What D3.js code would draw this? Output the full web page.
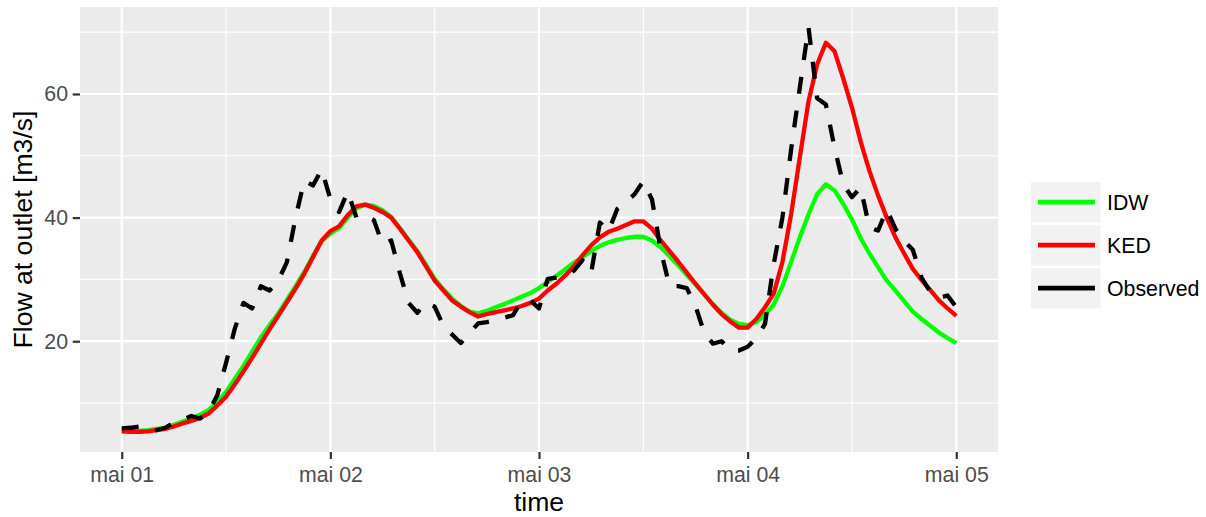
<!DOCTYPE html>
<html>
<head>
<meta charset="utf-8">
<script src="https://cdn.jsdelivr.net/npm/d3@7"></script>
<style>
  body { margin: 0; background: #ffffff; }
  svg { display: block; }
  text { font-family: "Liberation Sans", Arial, sans-serif; }
</style>
</head>
<body>
<svg id="chart" width="1206" height="517"></svg>
<script>
// ---------------- data (hourly, mai 01 00:00 -> mai 05 00:00) ----------------
const idw = [
  5.5,5.5,5.5,5.6,5.8,6.0,6.5,7.0,7.5,8.1,
  8.9,10.1,11.8,13.9,16.0,18.3,20.6,22.6,24.5,26.7,
  28.9,31.2,33.8,36.2,37.4,38.3,40.0,41.5,42.1,41.9,
  41.2,40.1,38.3,36.4,34.6,32.4,30.1,28.4,26.9,25.7,
  24.8,24.5,24.9,25.5,26.0,26.6,27.2,27.8,28.6,29.6,
  30.6,31.6,32.7,33.6,34.6,35.4,36.0,36.4,36.7,36.9,
  36.9,36.3,35.2,33.8,32.3,30.7,29.2,27.6,26.0,24.6,
  23.5,22.8,22.6,23.1,24.3,25.9,28.9,32.8,36.8,40.5,
  43.8,45.4,44.4,42.2,39.7,36.7,34.2,32.0,29.8,28.2,
  26.5,24.8,23.6,22.5,21.4,20.5,19.7
];
const ked = [
  5.4,5.35,5.35,5.4,5.6,5.8,6.2,6.7,7.1,7.6,
  8.3,9.6,11.0,13.0,15.1,17.3,19.6,21.9,24.1,26.3,
  28.5,30.9,33.6,36.3,37.8,38.6,40.4,41.8,42.1,41.6,
  40.9,40.0,38.2,36.3,34.4,32.1,29.8,28.2,26.6,25.6,
  24.7,24.0,24.4,24.7,25.0,25.3,25.7,26.2,26.9,28.2,
  29.3,30.6,32.1,33.9,35.5,36.8,37.7,38.2,38.8,39.4,
  39.4,38.2,36.3,34.6,32.9,31.1,29.3,27.6,25.9,24.4,
  23.2,22.2,22.2,23.6,25.5,27.7,32.8,40.5,49.7,58.8,
  64.8,68.3,66.9,62.5,57.8,52.3,47.6,43.6,40.0,36.8,
  34.2,31.7,29.9,28.3,26.6,25.3,24.1
];
const observed = [
  5.9,6.0,6.2,5.9,5.6,6.0,6.8,7.3,7.9,7.5,
  8.5,11.3,16.5,22.0,26.2,25.3,28.9,28.2,29.8,32.8,
  40.0,46.0,45.2,47.8,43.0,40.9,44.2,40.0,40.3,39.6,
  35.7,36.3,31.0,26.2,24.6,26.3,25.6,22.5,21.1,19.7,
  21.3,22.9,23.1,23.4,23.8,24.2,26.5,26.6,25.3,30.1,
  30.3,30.5,31.4,33.1,31.1,39.2,37.8,41.4,42.5,43.8,
  45.9,42.9,34.8,28.9,28.9,28.6,25.7,21.4,19.6,20.0,
  18.5,18.5,19.1,20.5,22.8,32.5,40.0,51.0,61.0,70.8,
  59.3,58.3,51.3,45.4,43.3,44.9,38.4,37.9,41.3,38.2,
  36.2,34.8,30.3,28.0,27.0,27.4,25.5
];
const seriesNames = ["IDW", "KED", "Observed"];
const seriesColors = ["#00ff00", "#ff0000", "#000000"];
const yTicks = [20, 40, 60];
const yMinor = [10, 30, 50, 70];
const xTickLabels = ["mai 01", "mai 02", "mai 03", "mai 04", "mai 05"];
const xTitle = "time";
const yTitle = "Flow at outlet [m3/s]";

// ---------------- setup ----------------
const startMs = Date.UTC(2016, 4, 1);
const HOUR = 3600e3;
const times = d3.range(idw.length).map(i => new Date(startMs + i * HOUR));
const tickDates = xTickLabels.map((_, i) => new Date(startMs + i * 24 * HOUR));
const noonDates = d3.range(xTickLabels.length - 1).map(i => new Date(startMs + (i * 24 + 12) * HOUR));

const panel = { left: 80, right: 998, top: 7, bottom: 452 };
const svg = d3.select("#chart");

const t0 = times[0].getTime(), t1 = times[times.length - 1].getTime();
const xPad = (t1 - t0) * 0.05;
const x = d3.scaleUtc().domain([new Date(t0 - xPad), new Date(t1 + xPad)]).range([panel.left, panel.right]);

const allVals = idw.concat(ked, observed);
const yLo = d3.min(allVals), yHi = d3.max(allVals);
const yPad = (yHi - yLo) * 0.05;
const y = d3.scaleLinear().domain([yLo - yPad, yHi + yPad]).range([panel.bottom, panel.top]);

// panel background
svg.append("rect")
  .attr("x", panel.left).attr("y", panel.top)
  .attr("width", panel.right - panel.left).attr("height", panel.bottom - panel.top)
  .attr("fill", "#ebebeb");

const grid = svg.append("g");
// minor grid
grid.selectAll(".ymin").data(yMinor).enter().append("line")
  .attr("x1", panel.left).attr("x2", panel.right)
  .attr("y1", d => y(d)).attr("y2", d => y(d))
  .attr("stroke", "#fff").attr("stroke-width", 1.1);
grid.selectAll(".xmin").data(noonDates).enter().append("line")
  .attr("y1", panel.top).attr("y2", panel.bottom)
  .attr("x1", d => x(d)).attr("x2", d => x(d))
  .attr("stroke", "#fff").attr("stroke-width", 1.1);
// major grid
grid.selectAll(".ymaj").data(yTicks).enter().append("line")
  .attr("x1", panel.left).attr("x2", panel.right)
  .attr("y1", d => y(d)).attr("y2", d => y(d))
  .attr("stroke", "#fff").attr("stroke-width", 2.2);
grid.selectAll(".xmaj").data(tickDates).enter().append("line")
  .attr("y1", panel.top).attr("y2", panel.bottom)
  .attr("x1", d => x(d)).attr("x2", d => x(d))
  .attr("stroke", "#fff").attr("stroke-width", 2.2);

// lines
const seriesData = [idw, ked, observed];
const line = d3.line().x((d, i) => x(times[i])).y(d => y(d));
const plot = svg.append("g");
seriesData.forEach((vals, k) => {
  plot.append("path")
    .datum(vals)
    .attr("d", line)
    .attr("fill", "none")
    .attr("stroke", seriesColors[k])
    .attr("stroke-width", 4.3)
    .attr("stroke-linejoin", "round")
    .attr("stroke-linecap", "butt")
    .attr("stroke-dasharray", seriesNames[k] === "Observed" ? "17,17" : null);
});

// axes
const axFont = "21.3px";
const yAxis = svg.append("g").attr("transform", `translate(${panel.left},0)`)
  .call(d3.axisLeft(y).tickValues(yTicks).tickSize(7.3).tickPadding(4.7).tickFormat(d3.format("d")));
const xAxis = svg.append("g").attr("transform", `translate(0,${panel.bottom})`)
  .call(d3.axisBottom(x).tickValues(tickDates).tickSize(7).tickPadding(7.9)
    .tickFormat((d, i) => xTickLabels[i]));
[yAxis, xAxis].forEach(ax => {
  ax.select(".domain").remove();
  ax.selectAll(".tick line").attr("stroke", "#333333").attr("stroke-width", 2.2);
  ax.selectAll(".tick text").attr("fill", "#4d4d4d").style("font-size", axFont)
    .style("font-family", '"Liberation Sans", Arial, sans-serif');
});

// titles
svg.append("text")
  .attr("x", (panel.left + panel.right) / 2).attr("y", 510.5)
  .attr("text-anchor", "middle").attr("fill", "#000")
  .style("font-size", "26.6px").text(xTitle);
svg.append("text")
  .attr("transform", `translate(32,${(panel.top + panel.bottom) / 2}) rotate(-90)`)
  .attr("text-anchor", "middle").attr("fill", "#000")
  .style("font-size", "26.6px").text(yTitle);

// legend
const legend = svg.append("g").attr("transform", "translate(1031,182)");
seriesNames.forEach((name, k) => {
  const g = legend.append("g").attr("transform", `translate(0,${k * 43})`);
  g.append("rect").attr("width", 69.5).attr("height", 40.5).attr("fill", "#f2f2f2");
  g.append("line").attr("x1", 7).attr("x2", 64).attr("y1", 20.2).attr("y2", 20.2)
    .attr("stroke", seriesColors[k]).attr("stroke-width", 4.7);
  g.append("text").attr("x", 76).attr("y", 20.2).attr("dy", "0.36em")
    .attr("fill", "#000").style("font-size", "21.3px").text(name);
});
</script>
</body>
</html>
